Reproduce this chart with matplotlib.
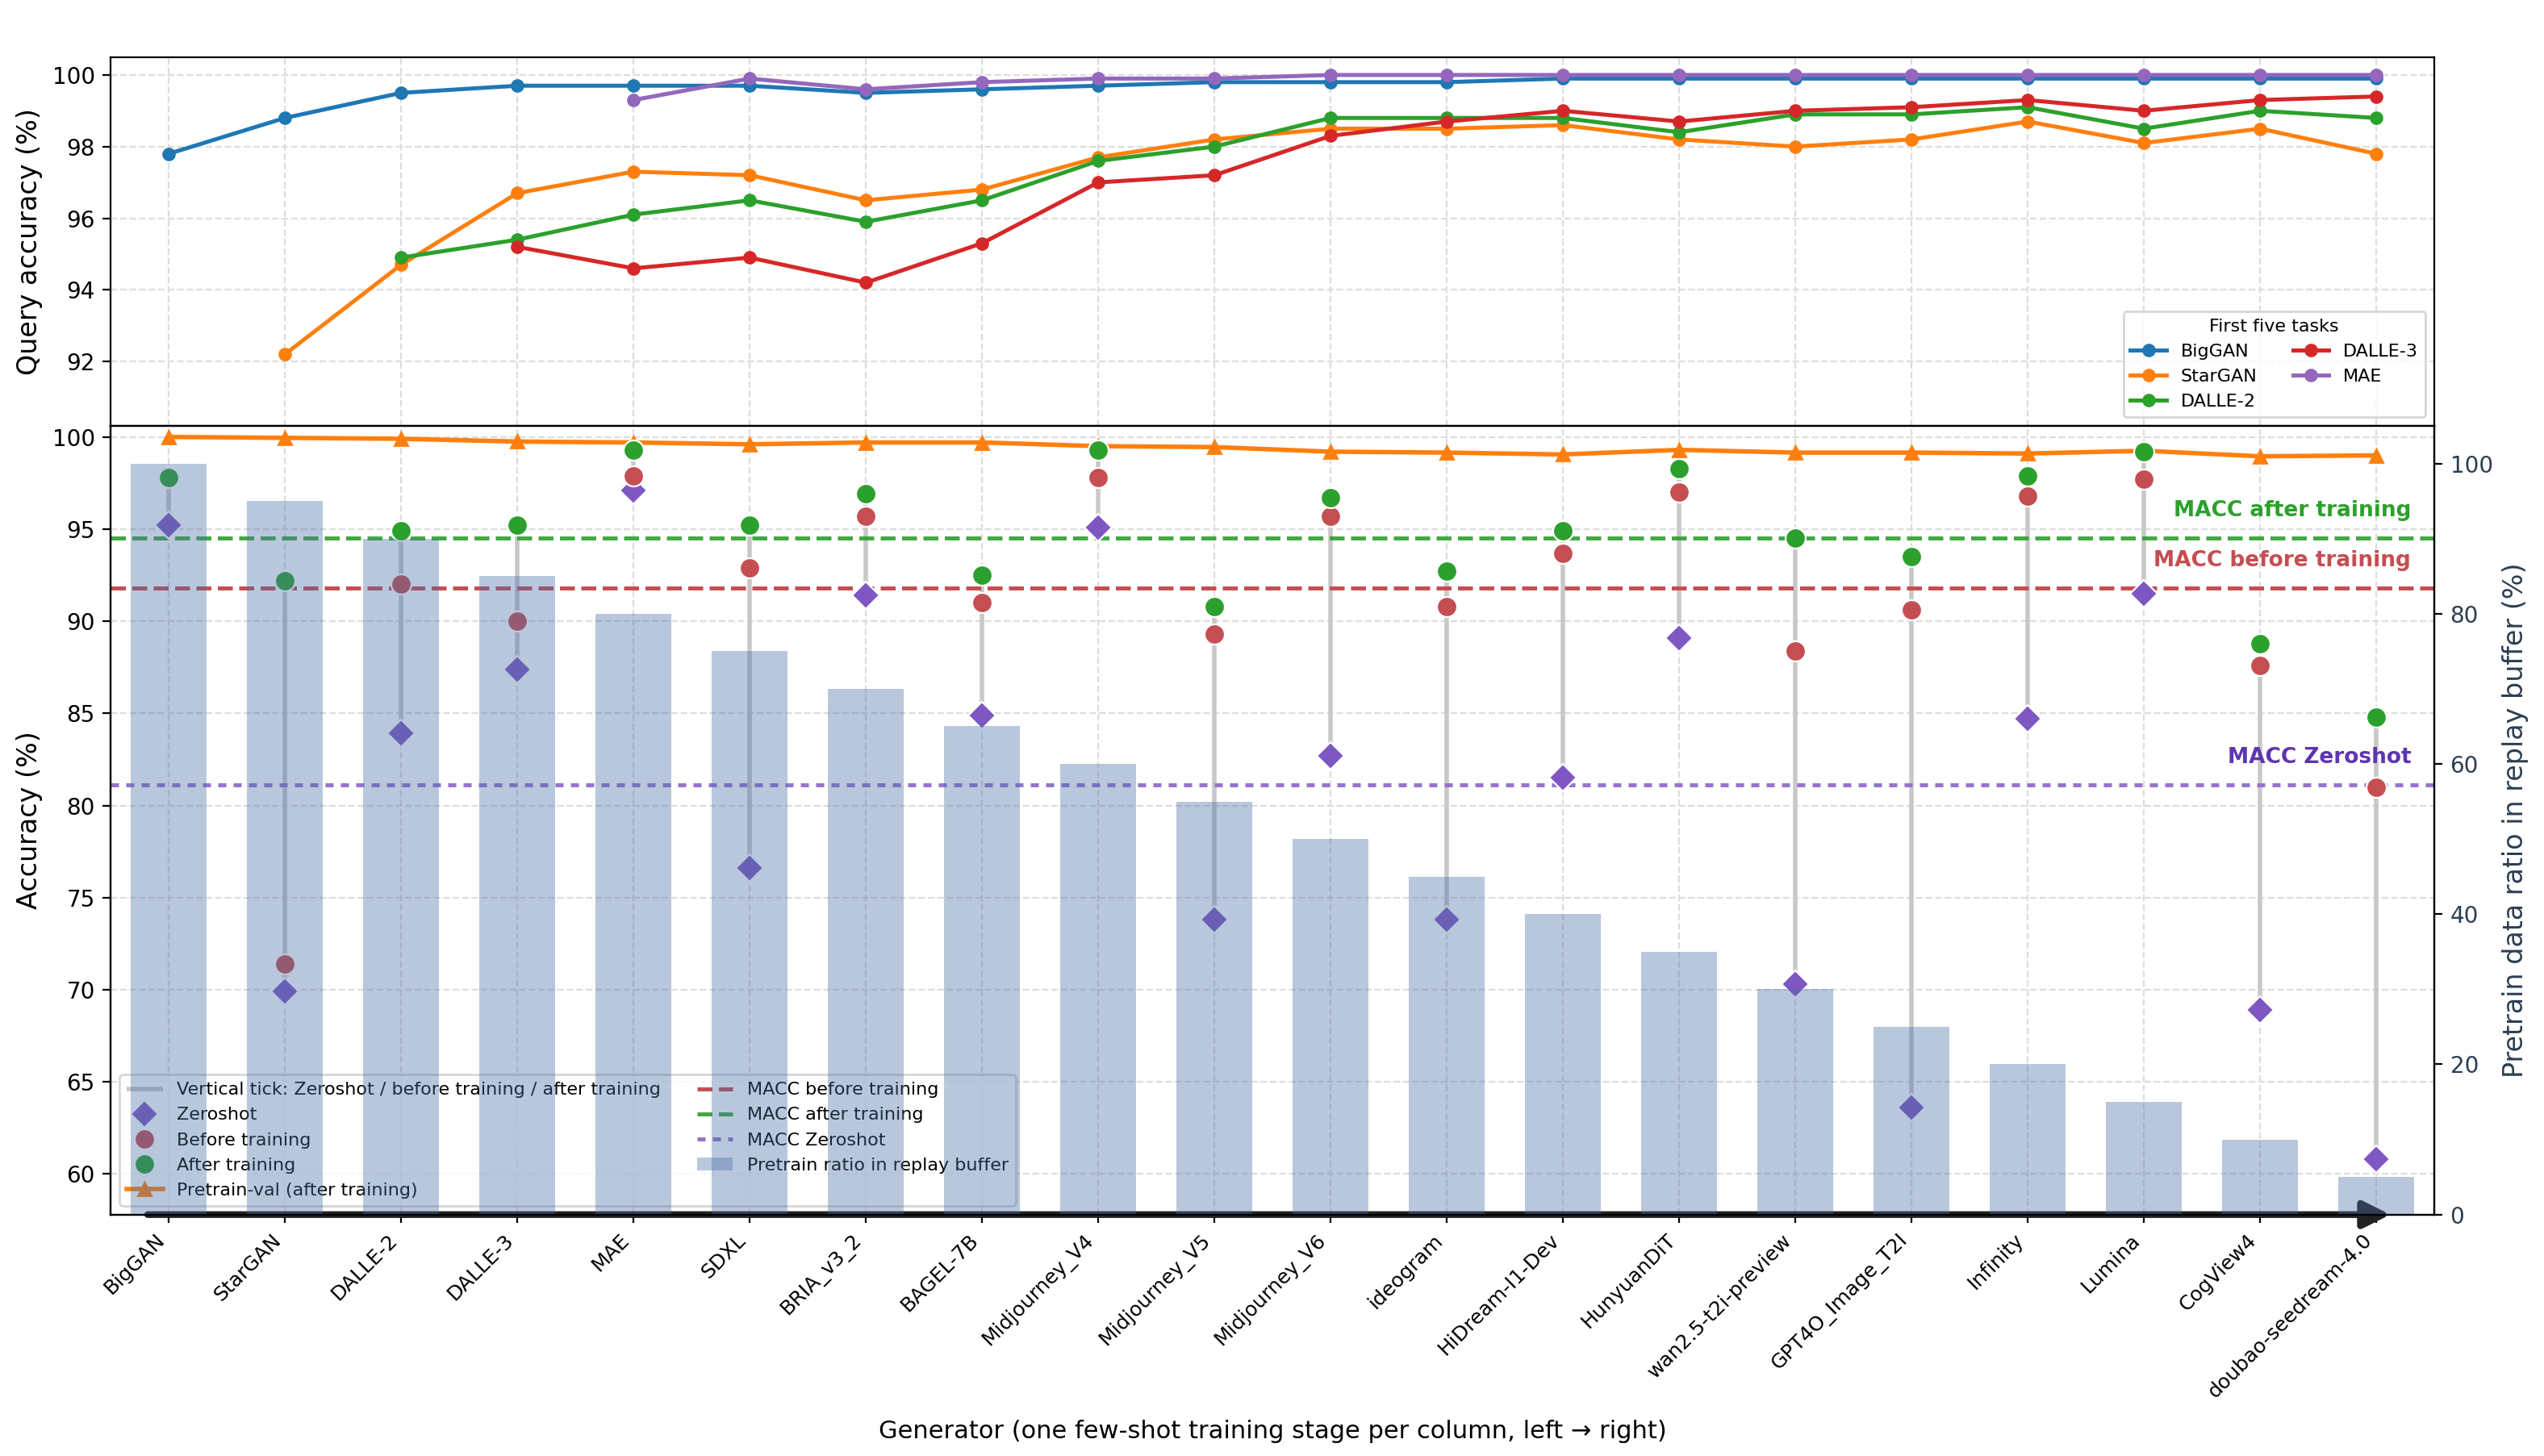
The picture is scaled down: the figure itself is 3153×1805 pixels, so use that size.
import numpy as np
import matplotlib.pyplot as plt
import matplotlib.transforms as mtransforms

nan = np.nan

# generators, one few-shot stage per column
generators = ['BigGAN', 'StarGAN', 'DALLE-2', 'DALLE-3', 'MAE', 'SDXL', 'BRIA_v3_2', 'BAGEL-7B',
              'Midjourney_V4', 'Midjourney_V5', 'Midjourney_V6', 'ideogram', 'HiDream-I1-Dev',
              'HunyuanDiT', 'wan2.5-t2i-preview', 'GPT4O_Image_T2I', 'Infinity', 'Lumina',
              'CogView4', 'doubao-seedream-4.0']

# top panel: query accuracy of the first five tasks
biggan_q = [97.8, 98.8, 99.5, 99.7, 99.7, 99.7, 99.5, 99.6, 99.7, 99.8, 99.8, 99.8, 99.9, 99.9, 99.9, 99.9, 99.9, 99.9, 99.9, 99.9]
stargan_q = [nan, 92.2, 94.7, 96.7, 97.3, 97.2, 96.5, 96.8, 97.7, 98.2, 98.5, 98.5, 98.6, 98.2, 98.0, 98.2, 98.7, 98.1, 98.5, 97.8]
dalle2_q = [nan, nan, 94.9, 95.4, 96.1, 96.5, 95.9, 96.5, 97.6, 98.0, 98.8, 98.8, 98.8, 98.4, 98.9, 98.9, 99.1, 98.5, 99.0, 98.8]
dalle3_q = [nan, nan, nan, 95.2, 94.6, 94.9, 94.2, 95.3, 97.0, 97.2, 98.3, 98.7, 99.0, 98.7, 99.0, 99.1, 99.3, 99.0, 99.3, 99.4]
mae_q = [nan, nan, nan, nan, 99.3, 99.9, 99.6, 99.8, 99.9, 99.9, 100.0, 100.0, 100.0, 100.0, 100.0, 100.0, 100.0, 100.0, 100.0, 100.0]
task_names = ['BigGAN', 'StarGAN', 'DALLE-2', 'DALLE-3', 'MAE']
task_colors = ['#1f77b4', '#ff7f0e', '#2ca02c', '#d62728', '#9467bd']

# bottom panel: accuracy on each new generator
zeroshot = [95.2, 69.9, 83.9, 87.4, 97.1, 76.6, 91.4, 84.9, 95.1, 73.8, 82.7, 73.8, 81.5, 89.1, 70.3, 63.6, 84.7, 91.5, 68.9, 60.8]
before = [97.8, 71.4, 92.0, 90.0, 97.9, 92.9, 95.7, 91.0, 97.8, 89.3, 95.7, 90.8, 93.7, 97.0, 88.4, 90.6, 96.8, 97.7, 87.6, 81.0]
after = [97.8, 92.2, 94.9, 95.2, 99.3, 95.2, 96.9, 92.5, 99.3, 90.8, 96.7, 92.7, 94.9, 98.3, 94.5, 93.5, 97.9, 99.2, 88.8, 84.8]
pretrain_val = [100.0, 99.95, 99.9, 99.75, 99.7, 99.6, 99.7, 99.7, 99.5, 99.45, 99.2, 99.15, 99.05, 99.3, 99.15, 99.15, 99.1, 99.25, 98.95, 99.0]
buffer_ratio = [100, 95, 90, 85, 80, 75, 70, 65, 60, 55, 50, 45, 40, 35, 30, 25, 20, 15, 10, 5]
macc_before = 91.8
macc_after = 94.5
macc_zero = 81.1

c_zero = '#7e57c2'
c_before = '#c44e52'
c_after = '#2ca02c'
c_slate = '#2c3e50'

x = np.arange(len(generators))

fig = plt.figure(figsize=(15.765, 9.025), dpi=200)
ax_top = fig.add_axes([0.0435, 0.7075, 0.9134, 0.2533])
ax = fig.add_axes([0.0435, 0.1658, 0.9134, 0.5417], sharex=ax_top)
ax2 = ax.twinx()

# ---- top panel
for name, vals, col in zip(task_names, [biggan_q, stargan_q, dalle2_q, dalle3_q, mae_q], task_colors):
    ax_top.plot(x, vals, '-o', color=col, lw=1.8, ms=5, label=name)
ax_top.set_ylim(90.2, 100.5)
ax_top.set_yticks([92, 94, 96, 98, 100])
ax_top.set_ylabel('Query accuracy (%)', fontsize=12)
ax_top.grid(True, ls='--', color='#dddddd', lw=0.8)
ax_top.tick_params(axis='x', bottom=False, labelbottom=False)
ax_top.tick_params(axis='y', labelsize=10)
ax_top.legend(title='First five tasks', ncol=2, loc='lower right', fontsize=8, title_fontsize=8)

# ---- bottom panel
lo = np.minimum(np.minimum(zeroshot, before), after)
hi = np.maximum(np.maximum(zeroshot, before), after)
h_tick = ax.vlines(x, lo, hi, color='#c8c8c8', lw=2, zorder=2,
                   label='Vertical tick: Zeroshot / before training / after training')
h_pv, = ax.plot(x, pretrain_val, '-^', color='#ff7f0e', lw=2, ms=6, zorder=2.5,
                label='Pretrain-val (after training)')
h_zero, = ax.plot(x, zeroshot, 'D', ls='none', color=c_zero, ms=8.5, mec='white', mew=0.8, zorder=3,
                  label='Zeroshot')
h_bef, = ax.plot(x, before, 'o', ls='none', color=c_before, ms=9, mec='white', mew=0.8, zorder=3,
                 label='Before training')
h_aft, = ax.plot(x, after, 'o', ls='none', color=c_after, ms=9, mec='white', mew=0.8, zorder=3,
                 label='After training')

h_mb = ax.axhline(macc_before, color=c_before, ls='--', lw=1.8, label='MACC before training')
h_ma = ax.axhline(macc_after, color=c_after, ls='--', lw=1.8, alpha=0.9, label='MACC after training')
h_mz = ax.axhline(macc_zero, color='#9575cd', ls=(0, (2, 1.8)), lw=1.8, label='MACC Zeroshot')

trans = mtransforms.blended_transform_factory(ax.transAxes, ax.transData)
ax.text(0.99, macc_after + 1.5, 'MACC after training', transform=trans, ha='right', va='center',
        color=c_after, fontsize=9.5, fontweight='bold')
ax.text(0.99, macc_before + 1.5, 'MACC before training', transform=trans, ha='right', va='center',
        color=c_before, fontsize=9.5, fontweight='bold')
ax.text(0.99, macc_zero + 1.5, 'MACC Zeroshot', transform=trans, ha='right', va='center',
        color='#5e35b1', fontsize=9.5, fontweight='bold')

h_bar = ax2.bar(x, buffer_ratio, width=0.65, color='#4a6fa5', alpha=0.39, label='Pretrain ratio in replay buffer')

ax.set_xlim(-0.5, len(generators) - 0.5)
ax.set_ylim(57.8, 100.6)
ax.set_yticks([60, 65, 70, 75, 80, 85, 90, 95, 100])
ax.set_ylabel('Accuracy (%)', fontsize=12)
ax.grid(True, ls='--', color='#dddddd', lw=0.8)
ax.set_xticks(x)
ax.set_xticklabels(generators, rotation=45, ha='right', fontsize=9)
ax.tick_params(axis='y', labelsize=10)
ax.set_xlabel('Generator (one few-shot training stage per column, left \u2192 right)', fontsize=11)
ax.xaxis.set_label_coords(0.5, -0.26)

ax2.set_ylim(0, 105)
ax2.set_ylabel('Pretrain data ratio in replay buffer (%)', fontsize=12, color=c_slate)
ax2.tick_params(axis='y', labelcolor=c_slate, labelsize=10)

# time arrow along the bottom
ax.annotate('', xy=(0.983, 0), xytext=(0.014, 0), xycoords='axes fraction',
            arrowprops=dict(arrowstyle='-|>', color='#222222', lw=3, mutation_scale=25),
            annotation_clip=False)

handles = [h_tick, h_zero, h_bef, h_aft, h_pv, h_mb, h_ma, h_mz, h_bar]
ax.legend(handles=handles, labels=[h.get_label() for h in handles], ncol=2, loc='lower left', fontsize=8)

plt.savefig('out.png', dpi=200)
print('figure saved to: out.png')
